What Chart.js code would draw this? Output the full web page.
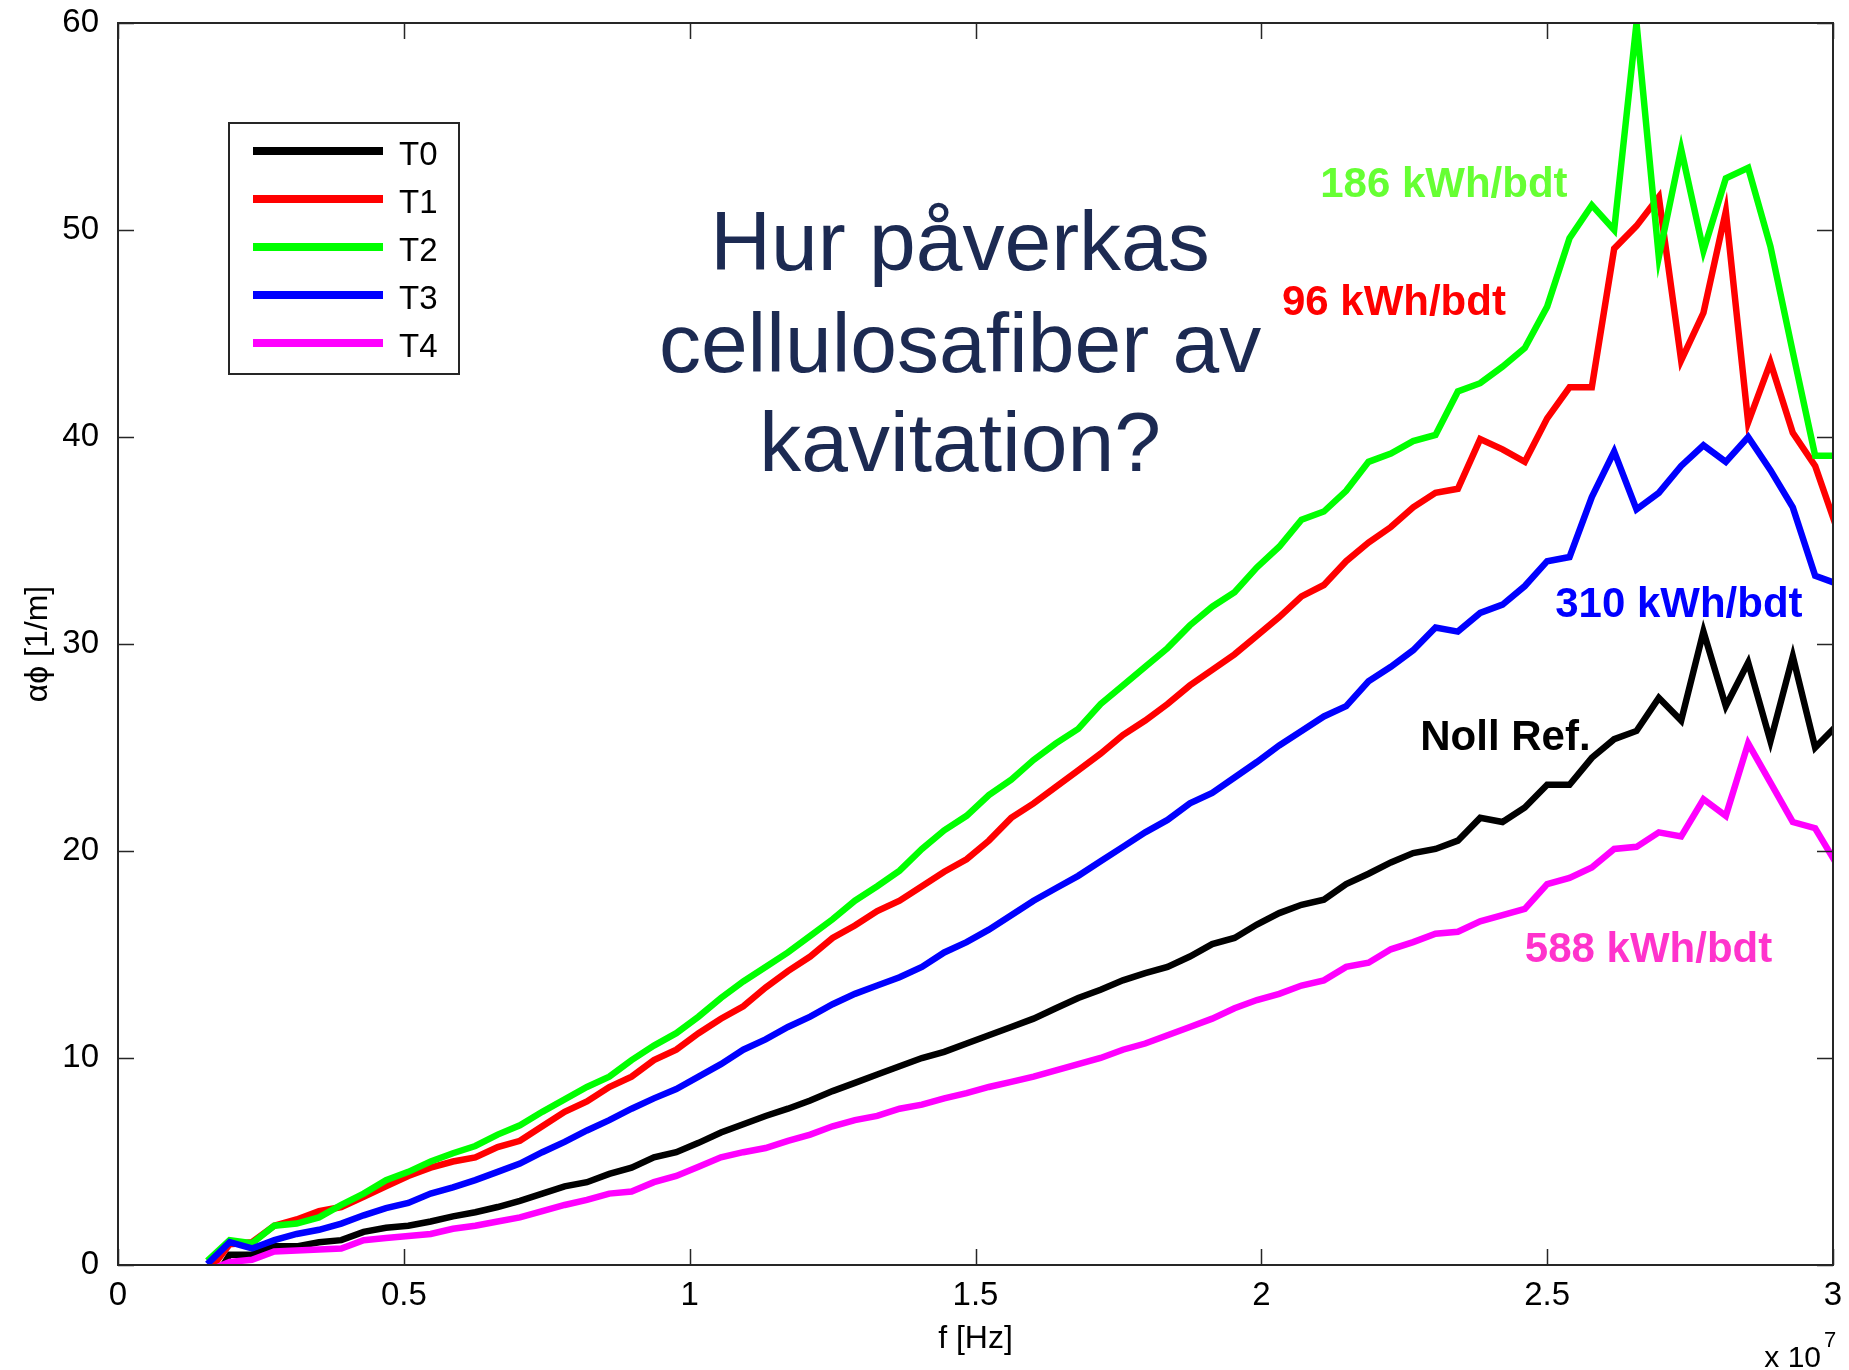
<!DOCTYPE html>
<html>
<head>
<meta charset="utf-8">
<title>Hur påverkas cellulosafiber av kavitation?</title>
<script src="https://cdn.jsdelivr.net/npm/chart.js@4.4.1/dist/chart.umd.min.js"></script>
<style>
  html, body { margin: 0; padding: 0; background: #fff; }
  #wrap { width: 1849px; height: 1370px; }
</style>
</head>
<body>
<div id="wrap"><canvas id="attChart" width="1849" height="1370"></canvas></div>
<script>
// frequency f, in units of 1e7 Hz
const freq = [
  0.1563, 0.1953, 0.2344, 0.2734, 0.3125, 0.3516, 0.3906, 0.4297, 0.4688, 0.5078,
  0.5469, 0.5859, 0.6250, 0.6641, 0.7031, 0.7422, 0.7813, 0.8203, 0.8594, 0.8984,
  0.9375, 0.9766, 1.0156, 1.0547, 1.0938, 1.1328, 1.1719, 1.2109, 1.2500, 1.2891,
  1.3281, 1.3672, 1.4063, 1.4453, 1.4844, 1.5234, 1.5625, 1.6016, 1.6406, 1.6797,
  1.7188, 1.7578, 1.7969, 1.8359, 1.8750, 1.9141, 1.9531, 1.9922, 2.0313, 2.0703,
  2.1094, 2.1484, 2.1875, 2.2266, 2.2656, 2.3047, 2.3438, 2.3828, 2.4219, 2.4609,
  2.5000, 2.5391, 2.5781, 2.6172, 2.6563, 2.6953, 2.7344, 2.7734, 2.8125, 2.8516,
  2.8906, 2.9297, 2.9688, 3.0078
];

// attenuation alpha-phi [1/m] per sample
const t0 = [
  -1.2, 0.5, 0.5, 0.9, 0.9, 1.1, 1.2, 1.6, 1.8, 1.9,
  2.1, 2.35, 2.55, 2.8, 3.1, 3.45, 3.8, 4.0, 4.4, 4.7,
  5.2, 5.45, 5.9, 6.4, 6.8, 7.2, 7.55, 7.95, 8.4, 8.8,
  9.2, 9.6, 10.0, 10.3, 10.7, 11.1, 11.5, 11.9, 12.4, 12.9,
  13.3, 13.75, 14.1, 14.4, 14.9, 15.5, 15.8, 16.45, 17.0, 17.4,
  17.65, 18.4, 18.9, 19.45, 19.9, 20.1, 20.5, 21.6, 21.4, 22.1,
  23.2, 23.2, 24.5, 25.4, 25.8, 27.4, 26.3, 30.6, 27.0, 29.1,
  25.3, 29.4, 25.0, 26.1
];
const t1 = [
  -0.4, 1.0, 1.1, 1.9, 2.2, 2.6, 2.8, 3.3, 3.8, 4.3,
  4.7, 5.0, 5.2, 5.7, 6.0, 6.7, 7.4, 7.9, 8.6, 9.1,
  9.9, 10.4, 11.2, 11.9, 12.5, 13.4, 14.2, 14.9, 15.8, 16.4,
  17.1, 17.6, 18.3, 19.0, 19.6, 20.5, 21.6, 22.3, 23.1, 23.9,
  24.7, 25.6, 26.3, 27.1, 28.0, 28.75, 29.5, 30.4, 31.3, 32.3,
  32.85, 34.0, 34.9, 35.65, 36.6, 37.3, 37.5, 39.9, 39.4, 38.8,
  40.9, 42.4, 42.4, 49.1, 50.2, 51.6, 43.7, 46.0, 50.9, 40.7,
  43.6, 40.2, 38.6, 35.5
];
const t2 = [
  0.2, 1.2, 1.05, 1.9, 2.0, 2.3, 2.9, 3.45, 4.1, 4.5,
  5.0, 5.4, 5.75, 6.3, 6.75, 7.4, 8.0, 8.6, 9.1, 9.9,
  10.6, 11.2, 12.0, 12.9, 13.7, 14.4, 15.1, 15.9, 16.7, 17.6,
  18.3, 19.05, 20.1, 21.0, 21.7, 22.7, 23.45, 24.4, 25.2, 25.9,
  27.1, 28.0, 28.9, 29.8, 30.9, 31.8, 32.5, 33.7, 34.7, 36.0,
  36.4, 37.4, 38.8, 39.2, 39.8, 40.1, 42.2, 42.6, 43.4, 44.3,
  46.3, 49.6, 51.2, 50.0, 60.0, 48.7, 53.9, 49.0, 52.5, 53.0,
  49.2, 44.1, 39.1, 39.1
];
const t3 = [
  0.05, 1.1, 0.8, 1.2, 1.5, 1.7, 2.0, 2.4, 2.75, 3.0,
  3.45, 3.75, 4.1, 4.5, 4.9, 5.45, 5.95, 6.5, 7.0, 7.55,
  8.05, 8.5, 9.1, 9.7, 10.4, 10.9, 11.5, 12.0, 12.6, 13.1,
  13.5, 13.9, 14.4, 15.1, 15.6, 16.2, 16.9, 17.6, 18.2, 18.8,
  19.5, 20.2, 20.9, 21.5, 22.3, 22.8, 23.55, 24.3, 25.1, 25.8,
  26.5, 27.0, 28.2, 28.9, 29.7, 30.8, 30.6, 31.5, 31.9, 32.8,
  34.0, 34.2, 37.1, 39.3, 36.5, 37.3, 38.6, 39.6, 38.8, 40.0,
  38.4, 36.6, 33.3, 32.9
];
const t4 = [
  -0.3, 0.15, 0.25, 0.65, 0.7, 0.75, 0.8, 1.2, 1.3, 1.4,
  1.5, 1.75, 1.9, 2.1, 2.3, 2.6, 2.9, 3.15, 3.45, 3.55,
  4.0, 4.3, 4.75, 5.2, 5.45, 5.65, 6.0, 6.3, 6.7, 7.0,
  7.2, 7.55, 7.75, 8.05, 8.3, 8.6, 8.85, 9.1, 9.4, 9.7,
  10.0, 10.4, 10.7, 11.1, 11.5, 11.9, 12.4, 12.8, 13.1, 13.5,
  13.75, 14.4, 14.6, 15.25, 15.6, 16.0, 16.1, 16.6, 16.9, 17.2,
  18.4, 18.7, 19.2, 20.1, 20.2, 20.9, 20.7, 22.5, 21.7, 25.2,
  23.3, 21.4, 21.1, 19.3
];

const seriesNames = ['T0', 'T1', 'T2', 'T3', 'T4'];
const seriesValues = [t0, t1, t2, t3, t4];
const seriesColors = ['#000000', '#ff0000', '#00ff00', '#0000ff', '#ff00ff'];

const xTicks = [0, 0.5, 1, 1.5, 2, 2.5, 3];
const yTicks = [0, 10, 20, 30, 40, 50, 60];

const energyLabels = ['186 kWh/bdt', '96 kWh/bdt', '310 kWh/bdt', 'Noll Ref.', '588 kWh/bdt'];
const titleLines = ['Hur påverkas', 'cellulosafiber av', 'kavitation?'];

// where the texts sit, in axis units (left edge / baseline)
const energyAnchors = [
  { x: 2.103, y: 51.6, color: '#66ff33' },
  { x: 2.036, y: 45.9, color: '#ff0000' },
  { x: 2.514, y: 31.3, color: '#0000ff' },
  { x: 2.278, y: 24.9, color: '#000000' },
  { x: 2.461, y: 14.65, color: '#ff33cc' }
];
const titleAnchor = { x: 1.473, y: [48.07, 43.13, 38.35] };

const FONT = "'Liberation Sans', Arial, Helvetica, sans-serif";
Chart.defaults.font.family = FONT;
Chart.defaults.color = '#000';

const TICK_LEN = 16;

// box, inward ticks, annotations and legend drawn on top of the lines
const overlay = {
  id: 'overlay',
  afterDatasetsDraw(chart) {
    const { ctx, chartArea: a, scales: { x, y } } = chart;
    ctx.save();

    // frame + ticks
    ctx.strokeStyle = '#262626';
    ctx.lineWidth = 2;
    ctx.strokeRect(a.left, a.top, a.right - a.left, a.bottom - a.top);
    ctx.beginPath();
    x.ticks.forEach(t => {
      const px = Math.round(x.getPixelForValue(t.value)) + 0.5;
      ctx.moveTo(px, a.bottom); ctx.lineTo(px, a.bottom - TICK_LEN);
      ctx.moveTo(px, a.top); ctx.lineTo(px, a.top + TICK_LEN);
    });
    y.ticks.forEach(t => {
      const py = Math.round(y.getPixelForValue(t.value)) + 0.5;
      ctx.moveTo(a.left, py); ctx.lineTo(a.left + TICK_LEN, py);
      ctx.moveTo(a.right, py); ctx.lineTo(a.right - TICK_LEN, py);
    });
    ctx.lineWidth = 1.5;
    ctx.stroke();

    // curve labels
    ctx.font = 'bold 42px ' + FONT;
    ctx.textAlign = 'left';
    ctx.textBaseline = 'alphabetic';
    energyLabels.forEach((txt, i) => {
      const an = energyAnchors[i];
      ctx.fillStyle = an.color;
      ctx.fillText(txt, x.getPixelForValue(an.x), y.getPixelForValue(an.y));
    });

    // slide question
    ctx.font = '84px ' + FONT;
    ctx.fillStyle = '#1c2a52';
    ctx.textAlign = 'center';
    titleLines.forEach((txt, i) => {
      ctx.fillText(txt, x.getPixelForValue(titleAnchor.x), y.getPixelForValue(titleAnchor.y[i]));
    });

    // legend box
    const lx = a.left + 111, ly = a.top + 100, lw = 230, lh = 251;
    ctx.fillStyle = '#fff';
    ctx.fillRect(lx, ly, lw, lh);
    ctx.strokeStyle = '#262626';
    ctx.lineWidth = 2;
    ctx.strokeRect(lx, ly, lw, lh);
    ctx.font = '33px ' + FONT;
    ctx.textAlign = 'left';
    chart.data.datasets.forEach((ds, i) => {
      const cy = ly + 28 + i * 48;
      ctx.strokeStyle = ds.borderColor;
      ctx.lineWidth = 8;
      ctx.beginPath();
      ctx.moveTo(lx + 24, cy);
      ctx.lineTo(lx + 154, cy);
      ctx.stroke();
      ctx.fillStyle = '#000';
      ctx.fillText(ds.label, lx + 170, cy + 14);
    });

    // exponent under the x axis
    ctx.fillStyle = '#000';
    ctx.textAlign = 'right';
    ctx.font = '30px ' + FONT;
    ctx.fillText('x 10', a.right - 12, 1367);
    ctx.textAlign = 'left';
    ctx.font = '22px ' + FONT;
    ctx.fillText('7', a.right - 9, 1347);

    ctx.restore();
  }
};

const ctx = document.getElementById('attChart').getContext('2d');
const attChart = new Chart(ctx, {
  type: 'line',
  data: {
    datasets: seriesNames.map((name, i) => ({
      label: name,
      data: freq.map((f, j) => ({ x: f, y: seriesValues[i][j] })),
      borderColor: seriesColors[i],
      backgroundColor: seriesColors[i],
      borderWidth: 6.5,
      pointRadius: 0,
      tension: 0,
      fill: false,
      clip: 0,
      order: seriesNames.length - i
    }))
  },
  options: {
    responsive: false,
    animation: false,
    devicePixelRatio: 1,
    layout: { padding: { left: 0, right: 16, top: 23, bottom: 0 } },
    plugins: {
      legend: { display: false },
      tooltip: { enabled: false }
    },
    scales: {
      x: {
        type: 'linear',
        min: 0,
        max: 3,
        afterBuildTicks: s => { s.ticks = xTicks.map(v => ({ value: v })); },
        afterFit: s => { s.height = 105; s.paddingLeft = 0; s.paddingRight = 0; },
        grid: { display: false },
        border: { display: false },
        ticks: {
          font: { size: 33 },
          padding: 3,
          maxRotation: 0,
          autoSkip: false,
          callback: v => String(v)
        },
        title: {
          display: true,
          text: 'f [Hz]',
          font: { size: 32 },
          padding: { top: 0, bottom: 12 }
        }
      },
      y: {
        type: 'linear',
        min: 0,
        max: 60,
        afterBuildTicks: s => { s.ticks = yTicks.map(v => ({ value: v })); },
        afterFit: s => { s.width = 118; s.paddingTop = 0; s.paddingBottom = 0; },
        grid: { display: false },
        border: { display: false },
        ticks: {
          font: { size: 33 },
          padding: 11,
          autoSkip: false,
          callback: v => String(v)
        },
        title: {
          display: true,
          text: 'αϕ [1/m]',
          font: { size: 32 },
          padding: { top: 19, bottom: 0 }
        }
      }
    }
  },
  plugins: [overlay]
});
</script>
</body>
</html>
